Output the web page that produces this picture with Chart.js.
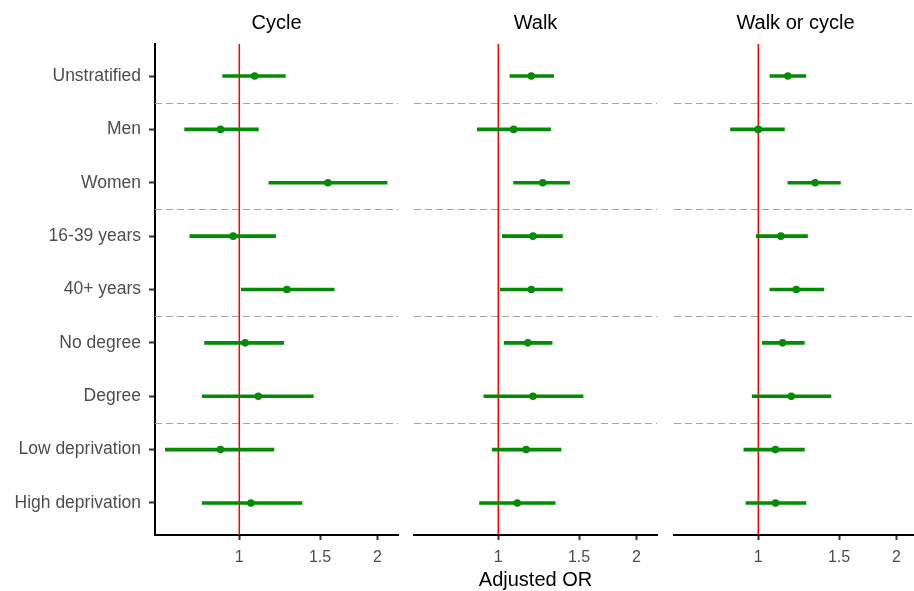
<!DOCTYPE html>
<html>
<head>
<meta charset="utf-8">
<script src="https://cdn.jsdelivr.net/npm/chart.js@4.4.1/dist/chart.umd.min.js"></script>
<style>
    html, body { margin: 0; padding: 0; background: #fff; }
    #wrap { position: relative; width: 914px; height: 591px; overflow: hidden; }
    #wrap canvas { position: absolute; top: 0; }
</style>
</head>
<body>
<div id="wrap">
    <canvas id="cyclePanel" width="402" height="591" style="left:0"></canvas>
    <canvas id="walkPanel" width="261" height="591" style="left:400px"></canvas>
    <canvas id="bothPanel" width="261" height="591" style="left:660px"></canvas>
</div>
<script>
    const categories = ['Unstratified', 'Men', 'Women', '16-39 years', '40+ years',
        'No degree', 'Degree', 'Low deprivation', 'High deprivation'];
    // rows with the same group sit between the same dashed lines
    const groups = ['All', 'Sex', 'Sex', 'Age', 'Age', 'Education', 'Education', 'Deprivation', 'Deprivation'];
    const xTicks = [1, 1.5, 2];

    const cycleOR = [1.08, 0.91, 1.56, 0.97, 1.27, 1.03, 1.10, 0.91, 1.06];
    const cycleLo = [0.92, 0.76, 1.16, 0.78, 1.01, 0.84, 0.83, 0.69, 0.83];
    const cycleHi = [1.26, 1.10, 2.10, 1.20, 1.61, 1.25, 1.45, 1.19, 1.37];

    const walkOR = [1.18, 1.08, 1.25, 1.19, 1.18, 1.16, 1.19, 1.15, 1.10];
    const walkLo = [1.06, 0.90, 1.08, 1.02, 1.01, 1.03, 0.93, 0.97, 0.91];
    const walkHi = [1.32, 1.30, 1.43, 1.38, 1.38, 1.31, 1.53, 1.37, 1.33];

    const bothOR = [1.16, 1.00, 1.33, 1.12, 1.21, 1.13, 1.18, 1.09, 1.09];
    const bothLo = [1.06, 0.87, 1.16, 0.99, 1.06, 1.02, 0.97, 0.93, 0.94];
    const bothHi = [1.27, 1.14, 1.51, 1.28, 1.39, 1.26, 1.44, 1.26, 1.27];

    const green = '#008B00';
    Chart.defaults.font.family = "'Liberation Sans', Arial, sans-serif";

    // red line at OR = 1 and dashed lines between groups
    const refLines = {
        id: 'refLines',
        beforeDatasetsDraw(chart) {
            const {ctx, chartArea, scales} = chart;
            ctx.save();
            ctx.strokeStyle = '#a3a3a3';
            ctx.lineWidth = 1.2;
            ctx.setLineDash([7, 4]);
            for (let i = 0; i < groups.length - 1; i++) {
                if (groups[i] !== groups[i + 1]) {
                    let y = Math.round(scales.y.getPixelForValue(i + 1.5)) + 0.5;
                    ctx.beginPath();
                    ctx.moveTo(chartArea.left, y);
                    ctx.lineTo(chartArea.right, y);
                    ctx.stroke();
                }
            }
            ctx.setLineDash([]);
            ctx.strokeStyle = '#ff0000';
            ctx.lineWidth = 1.5;
            let x = scales.x.getPixelForValue(1);
            ctx.beginPath();
            ctx.moveTo(x, chartArea.top);
            ctx.lineTo(x, chartArea.bottom);
            ctx.stroke();
            ctx.restore();
        }
    };

    function makePanel(canvasId, title, or, lo, hi, showY, showXTitle) {
        let ctx = document.getElementById(canvasId);
        return new Chart(ctx, {
            type: 'bar',
            data: {
                datasets: [{
                    type: 'bar',
                    data: categories.map((c, i) => ({y: i + 1, x: [lo[i], hi[i]]})),
                    backgroundColor: green,
                    borderWidth: 0,
                    barThickness: 3
                }, {
                    type: 'scatter',
                    data: categories.map((c, i) => ({y: i + 1, x: or[i]})),
                    backgroundColor: green,
                    borderWidth: 0,
                    pointRadius: 3.8
                }]
            },
            options: {
                indexAxis: 'y',
                responsive: false,
                animation: false,
                layout: {
                    padding: showY ? {left: 0, right: 0, top: 0, bottom: 0} : {left: 14, right: 0, top: 0, bottom: 0}
                },
                scales: {
                    x: {
                        type: 'logarithmic',
                        min: 0.655,
                        max: 2.218,
                        afterBuildTicks: (scale) => { scale.ticks = xTicks.map(v => ({value: v})); },
                        afterFit: (scale) => { scale.height = 56; },
                        ticks: {
                            color: '#4d4d4d',
                            font: {size: 16},
                            padding: 8,
                            callback: (v) => String(v)
                        },
                        grid: {drawOnChartArea: false, tickLength: 5, tickColor: '#333', tickWidth: 2},
                        border: {display: true, color: '#000', width: 2},
                        title: {
                            display: showXTitle,
                            text: 'Adjusted OR',
                            color: '#000',
                            font: {size: 20, lineHeight: 1},
                            padding: {top: 0, bottom: 1}
                        }
                    },
                    y: {
                        type: 'linear',
                        display: showY,
                        reverse: true,
                        offset: false,
                        min: 0.4,
                        max: 9.6,
                        afterBuildTicks: (scale) => { scale.ticks = categories.map((c, i) => ({value: i + 1})); },
                        afterFit: (scale) => { scale.width = showY ? 155 : 0; },
                        ticks: {
                            color: '#4d4d4d',
                            font: {size: 17.5},
                            padding: 8,
                            callback: (v) => categories[v - 1]
                        },
                        grid: {offset: false, drawOnChartArea: false, tickLength: 6, tickColor: '#333', tickWidth: 2},
                        border: {display: true, color: '#000', width: 2}
                    }
                },
                plugins: {
                    legend: {display: false},
                    tooltip: {enabled: false},
                    title: {
                        display: true,
                        text: title,
                        fullSize: false,
                        color: '#000',
                        font: {size: 20, weight: 'normal'},
                        padding: {top: 11.5, bottom: 8.5}
                    }
                }
            },
            plugins: [refLines]
        });
    }

    makePanel('cyclePanel', 'Cycle', cycleOR, cycleLo, cycleHi, true, false);
    makePanel('walkPanel', 'Walk', walkOR, walkLo, walkHi, false, true);
    makePanel('bothPanel', 'Walk or cycle', bothOR, bothLo, bothHi, false, false);
</script>
</body>
</html>
